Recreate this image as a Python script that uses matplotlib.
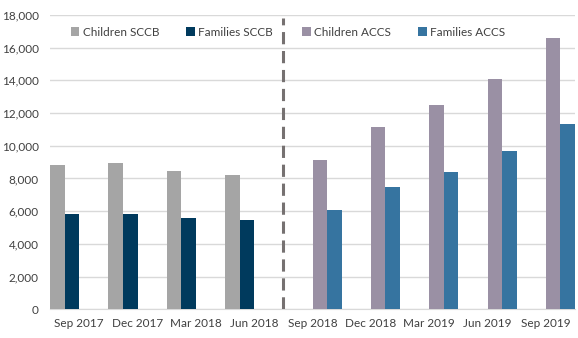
import numpy as np
import matplotlib
matplotlib.use("Agg")
import matplotlib.pyplot as plt

plt.rcParams['font.family'] = ['Lato', 'DejaVu Sans']

quarters = ['Sep 2017', 'Dec 2017', 'Mar 2018', 'Jun 2018',
            'Sep 2018', 'Dec 2018', 'Mar 2019', 'Jun 2019', 'Sep 2019']
children_sccb = [8830, 8930, 8480, 8210, np.nan, np.nan, np.nan, np.nan, np.nan]
families_sccb = [5810, 5850, 5600, 5440, np.nan, np.nan, np.nan, np.nan, np.nan]
children_accs = [np.nan, np.nan, np.nan, np.nan, 9110, 11130, 12500, 14070, 16610]
families_accs = [np.nan, np.nan, np.nan, np.nan, 6060, 7480, 8380, 9680, 11350]

x = np.arange(len(quarters))
w = 0.25

fig = plt.figure(figsize=(5.78, 3.38), dpi=100)
ax = fig.add_axes([50/578, 28.7/338, 525/578, 294.3/338])

b1 = ax.bar(x - 1.5*w, children_sccb, w, color='#A5A5A5', label='Children SCCB', zorder=3)
b2 = ax.bar(x - 0.5*w, families_sccb, w, color='#003A5D', label='Families SCCB', zorder=3)
b3 = ax.bar(x + 0.5*w, children_accs, w, color='#9A90A4', label='Children ACCS', zorder=3)
b4 = ax.bar(x + 1.5*w, families_accs, w, color='#3674A0', label='Families ACCS', zorder=3)

ax.plot([3.5, 3.5], [0, 17800], color='#767171', lw=2.2, ls=(0, (4, 2.2)), zorder=4)

ax.set_xlim(-0.5, 8.5)
ax.set_ylim(0, 18000)
ax.set_yticks(np.arange(0, 18001, 2000))
ax.set_yticklabels([f'{v:,}' for v in range(0, 18001, 2000)])
ax.set_xticks(x)
ax.set_xticklabels(quarters)
ax.grid(axis='y', color='#D9D9D9', lw=1, zorder=0)
for s in ['top', 'right', 'left']:
    ax.spines[s].set_visible(False)
ax.spines['bottom'].set_color('#D9D9D9')
ax.tick_params(axis='both', length=0, labelsize=8.5, colors='#404040')
ax.tick_params(axis='y', pad=8)
ax.tick_params(axis='x', pad=6)

leg1 = ax.legend(handles=[b1, b2], loc='center', bbox_to_anchor=(0.232, 0.942),
                 ncol=2, frameon=False, fontsize=8.5, handlelength=0.7, handleheight=0.7,
                 handletextpad=0.3, columnspacing=2.3, labelcolor='#404040')
ax.add_artist(leg1)
ax.legend(handles=[b3, b4], loc='center', bbox_to_anchor=(0.674, 0.942),
          ncol=2, frameon=False, fontsize=8.5, handlelength=0.7, handleheight=0.7,
          handletextpad=0.3, columnspacing=2.3, labelcolor='#404040')

fig.savefig('out.png', dpi=100)
